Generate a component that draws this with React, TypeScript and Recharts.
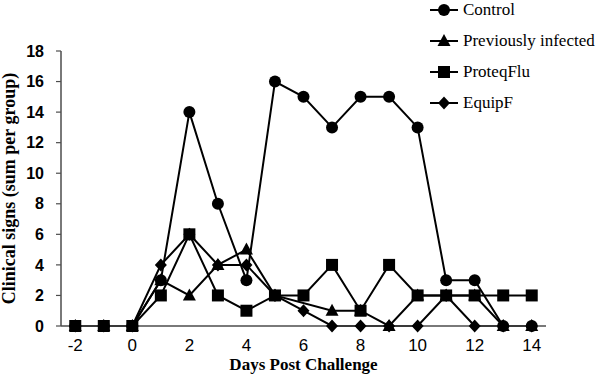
import React from 'react';
import { LineChart, Line, XAxis, YAxis, Legend } from 'recharts';

// days post challenge
const days = [-2, -1, 0, 1, 2, 3, 4, 5, 6, 7, 8, 9, 10, 11, 12, 13, 14];

// clinical signs, sum per group
const control = [0, 0, 0, 3, 14, 8, 3, 16, 15, 13, 15, 15, 13, 3, 3, 0, 0];
const previouslyInfected = [0, 0, 0, 3, 2, 4, 5, 2, null, 1, 1, 0, 2, 2, 2, 0, 0];
const proteqFlu = [0, 0, 0, 2, 6, 2, 1, 2, 2, 4, 1, 4, 2, 2, 2, 2, 2];
const equipF = [0, 0, 0, 4, 6, 4, 4, 2, 1, 0, 0, 0, 0, 2, 0, 0, 0];

const seriesNames = ['Control', 'Previously infected', 'ProteqFlu', 'EquipF'];

const xLabelTicks = [-2, 0, 2, 4, 6, 8, 10, 12, 14];
const xBoundaryTicks = [-2.5, -1.5, -0.5, 0.5, 1.5, 2.5, 3.5, 4.5, 5.5, 6.5, 7.5, 8.5, 9.5, 10.5, 11.5, 12.5, 13.5, 14.5];
const yTicks = [0, 2, 4, 6, 8, 10, 12, 14, 16, 18];

const data = days.map((d, i) => ({
  day: d,
  control: control[i],
  prev: previouslyInfected[i],
  proteq: proteqFlu[i],
  equip: equipF[i],
}));

const keys = ['control', 'prev', 'proteq', 'equip'];

const INK = '#000';
const AXIS = '#4d4d4d';
const SANS = '"Liberation Sans", Arial, sans-serif';
const SERIF = '"Liberation Serif", "Times New Roman", serif';

const drawCircle = (cx: number, cy: number, k?: any) => <circle key={k} cx={cx} cy={cy} r={6} fill={INK} />;
const drawTriangle = (cx: number, cy: number, k?: any) => (
  <polygon key={k} points={`${cx},${cy - 7} ${cx - 6.5},${cy + 5} ${cx + 6.5},${cy + 5}`} fill={INK} />
);
const drawSquare = (cx: number, cy: number, k?: any) => <rect key={k} x={cx - 6} y={cy - 6} width={12} height={12} fill={INK} />;
const drawDiamond = (cx: number, cy: number, k?: any) => (
  <polygon key={k} points={`${cx},${cy - 6.5} ${cx + 6},${cy} ${cx},${cy + 6.5} ${cx - 6},${cy}`} fill={INK} />
);

const shapes: Record<string, (cx: number, cy: number, k?: any) => React.ReactElement> = {
  control: drawCircle,
  prev: drawTriangle,
  proteq: drawSquare,
  equip: drawDiamond,
};

const makeDot = (key: string) => (props: any) => {
  const { cx, cy, value, index } = props;
  if (cx == null || cy == null || value == null) return <g key={`e-${key}-${index}`} />;
  return shapes[key](cx, cy, `${key}-${index}`);
};

const LegendBox = (props: any) => {
  const items = [...(props.payload || [])].sort(
    (a: any, b: any) => keys.indexOf(a.dataKey) - keys.indexOf(b.dataKey)
  );
  return (
    <div>
      {items.map((it: any) => (
        <div key={it.dataKey} style={{ height: 31, display: 'flex', alignItems: 'center' }}>
          <svg width={32} height={16}>
            <line x1={2} y1={8} x2={30} y2={8} stroke={INK} strokeWidth={2} />
            {shapes[it.dataKey](16, 8)}
          </svg>
          <span style={{ fontFamily: SERIF, fontSize: 17, color: INK, marginLeft: 3, whiteSpace: 'nowrap' }}>{it.value}</span>
        </div>
      ))}
    </div>
  );
};

export default function App() {
  return (
    <div style={{ position: 'absolute', left: 0, top: 0, background: '#fff' }}>
      <LineChart width={600} height={382} data={data} margin={{ top: 51, right: 54, bottom: 0, left: 0 }}>
        <XAxis
          xAxisId="a"
          dataKey="day"
          type="number"
          domain={[-2.5, 14.5]}
          allowDataOverflow
          ticks={xBoundaryTicks}
          interval={0}
          tick={false}
          tickSize={5}
          height={5}
          axisLine={{ stroke: AXIS, strokeWidth: 1.5 }}
          tickLine={{ stroke: AXIS, strokeWidth: 1.2 }}
        />
        <XAxis
          xAxisId="b"
          dataKey="day"
          type="number"
          domain={[-2.5, 14.5]}
          allowDataOverflow
          ticks={xLabelTicks}
          interval={0}
          axisLine={false}
          tickLine={false}
          tickSize={6}
          height={51}
          tick={{ fill: INK, fontSize: 17, fontFamily: SANS }}
          label={{
            value: 'Days Post Challenge',
            position: 'insideBottom',
            offset: 12,
            style: { fill: INK, fontSize: 17, fontFamily: SERIF, fontWeight: 'bold' },
          }}
        />
        <YAxis
          domain={[0, 18]}
          ticks={yTicks}
          interval={0}
          width={61}
          tickSize={5}
          tickMargin={12}
          axisLine={{ stroke: AXIS, strokeWidth: 1.5 }}
          tickLine={{ stroke: AXIS, strokeWidth: 1.2 }}
          tick={{ fill: INK, fontSize: 16, fontFamily: SANS, fontWeight: 'bold' }}
          label={{
            value: 'Clinical signs (sum per group)',
            angle: -90,
            position: 'insideLeft',
            offset: 9,
            style: { textAnchor: 'middle', fill: INK, fontSize: 18, fontFamily: SERIF, fontWeight: 'bold' },
          }}
        />
        <Legend
          layout="vertical"
          align="center"
          verticalAlign="middle"
          wrapperStyle={{ top: -6, left: 428, width: 172 }}
          content={<LegendBox />}
        />
        {keys.map((k, i) => (
          <Line
            key={k}
            xAxisId="a"
            dataKey={k}
            name={seriesNames[i]}
            stroke={INK}
            strokeWidth={2}
            connectNulls
            dot={makeDot(k)}
            activeDot={false}
            legendType="line"
            isAnimationActive={false}
          />
        ))}
      </LineChart>
    </div>
  );
}
